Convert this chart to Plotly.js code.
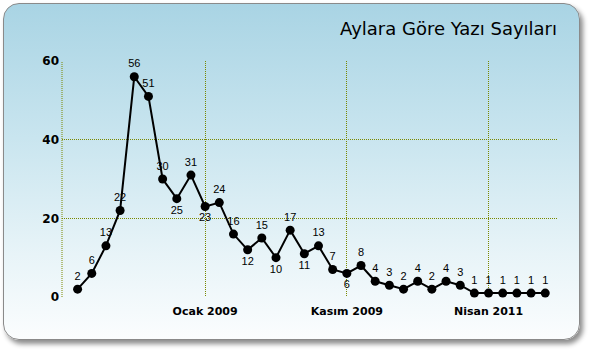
<!DOCTYPE html>
<html>
<head>
<meta charset="utf-8">
<script src="https://cdn.plot.ly/plotly-3.0.1.min.js"></script>
<style>
html,body{margin:0;padding:0;width:590px;height:350px;overflow:hidden;background:#ffffff;}
#card{position:absolute;left:3px;top:3px;width:575px;height:335px;border:1px solid #8a8a8a;border-radius:16px;
background:linear-gradient(to bottom,#a9d4e4 0%,#c9e5ef 40%,#e8f4f8 75%,#fbfdfe 100%);
box-shadow:3px 4px 5px rgba(0,0,0,0.45);}
#chart{position:absolute;left:0;top:0;width:590px;height:350px;}
</style>
</head>
<body>
<div id="card"></div>
<div id="chart"></div>
<script>
var values = [2,6,13,22,56,51,30,25,31,23,24,16,12,15,10,17,11,13,7,6,8,4,3,2,4,2,4,3,1,1,1,1,1,1];
var labelBelow = [7,9,12,14,16,19];
var tickIndex = [9,19,29];
var tickLabels = ['Ocak 2009','Kasım 2009','Nisan 2011'];
var yTicks = [0,20,40,60];
var titleText = 'Aylara Göre Yazı Sayıları';

var xs = values.map(function(v,i){return i;});
var positions = values.map(function(v,i){return labelBelow.indexOf(i)>=0 ? 'bottom center' : 'top center';});

var trace = {
  x: xs, y: values, type: 'scatter', mode: 'lines+markers+text',
  text: values.map(String), textposition: positions,
  textfont: {family: 'Liberation Sans, Arial, sans-serif', size: 11, color: '#000000'},
  line: {color: '#000', width: 2},
  marker: {color: '#000', size: 9},
  cliponaxis: false, hoverinfo: 'none'
};

var grid = '#7a8800';
var layout = {
  width: 590, height: 350,
  margin: {l: 62, r: 32, t: 61, b: 53},
  paper_bgcolor: 'rgba(0,0,0,0)', plot_bgcolor: 'rgba(0,0,0,0)',
  showlegend: false,
  title: {text: titleText, x: 557/590, xanchor: 'right', y: 1 - 29/350, yanchor: 'middle',
          font: {family: 'DejaVu Sans, sans-serif', size: 18, color: '#000'}},
  xaxis: {range: [-1.1, 33.9], tickmode: 'array', tickvals: tickIndex, ticktext: tickLabels,
          showgrid: true, gridcolor: grid, griddash: '1px,1px', gridwidth: 1,
          zeroline: false, showline: false, ticks: '', ticklabelstandoff: 6,
          tickfont: {family: 'DejaVu Sans, sans-serif', size: 11, color: '#000', weight: 'bold'}},
  yaxis: {range: [0, 60], tickmode: 'array', tickvals: yTicks,
          showgrid: true, gridcolor: grid, griddash: '1px,1px', gridwidth: 1,
          zeroline: false, showline: false, ticks: '', ticklabelstandoff: 2,
          tickfont: {family: 'DejaVu Sans, sans-serif', size: 12, color: '#000', weight: 'bold'}},
  shapes: [{type: 'line', xref: 'paper', yref: 'paper', x0: 0, x1: 0, y0: 0, y1: 1,
            line: {color: grid, width: 1, dash: '1px,1px'}, layer: 'below'}]
};

Plotly.newPlot('chart', [trace], layout, {displayModeBar: false, staticPlot: true});
</script>
</body>
</html>
